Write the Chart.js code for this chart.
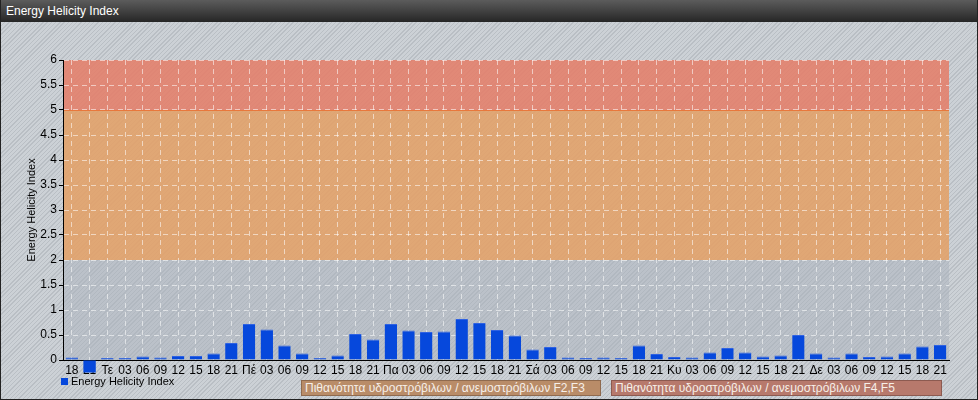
<!DOCTYPE html>
<html>
<head>
<meta charset="utf-8">
<script src="https://cdn.jsdelivr.net/npm/chart.js@4.4.1/dist/chart.umd.min.js"></script>
<style>
  html, body { margin: 0; padding: 0; }
  body { width: 978px; height: 400px; overflow: hidden; font-family: "Liberation Sans", Arial, sans-serif; }
  #wrap {
    position: relative; width: 976px; height: 399px;
    border: 1px solid #222; border-top: none;
    background-color: #ccd1d6;
    background-image: repeating-linear-gradient(135deg, rgba(150,156,163,0.35) 0px, rgba(150,156,163,0.35) 1px, transparent 1px, transparent 3px);
  }
  #titlebar {
    position: absolute; left: 0; top: 0; width: 976px; height: 22px;
    background: linear-gradient(#5c5c5c, #262626);
    color: #fff; font-size: 12px; line-height: 22px; padding-left: 5px; box-sizing: border-box;
  }
  #chart { position: absolute; left: 0; top: 0; }
  #legend { position: absolute; left: 60px; top: 375px; font-size: 11px; color: #000; }
  #legend span.box { display: inline-block; width: 7px; height: 7px; background: #0648dc; margin-right: 3px; }
  .warn {
    position: absolute; top: 380px; height: 16px; box-sizing: border-box;
    font-size: 12px; line-height: 14px; color: #f6efe8; padding-left: 3px;
  }
  #w1 { left: 300px; width: 300px; background: #b98c68; border: 1px solid #8f6a4e; }
  #w2 { left: 610px; width: 331px; background: #b7796c; border: 1px solid #8c5a50; }
</style>
</head>
<body>
<div id="wrap">
  <canvas id="chart" width="978" height="400"></canvas>
  <div id="titlebar">Energy Helicity Index</div>
  <div id="legend"><span class="box"></span>Energy Helicity Index</div>
  <div class="warn" id="w1">Πιθανότητα υδροστρόβιλων / ανεμοστρόβιλων F2,F3</div>
  <div class="warn" id="w2">Πιθανότητα υδροστρόβιλων / ανεμοστρόβιλων F4,F5</div>
</div>
<script>
// time steps (3-hourly), day names replace 00
const horas = ['18','21','Τε','03','06','09','12','15','18','21',
  'Πέ','03','06','09','12','15','18','21',
  'Πα','03','06','09','12','15','18','21',
  'Σά','03','06','09','12','15','18','21',
  'Κυ','03','06','09','12','15','18','21',
  'Δε','03','06','09','12','15','18','21'];

const ehi = [0.05, -0.25, 0.04, 0.04, 0.07, 0.05, 0.08, 0.08, 0.13, 0.34,
  0.72, 0.61, 0.29, 0.13, 0.04, 0.09, 0.52, 0.41,
  0.72, 0.59, 0.56, 0.57, 0.82, 0.74, 0.60, 0.49,
  0.21, 0.26, 0.05, 0.04, 0.05, 0.04, 0.29, 0.12,
  0.06, 0.05, 0.15, 0.24, 0.15, 0.07, 0.09, 0.50,
  0.13, 0.05, 0.13, 0.06, 0.07, 0.13, 0.27, 0.30];

// risk bands on the y axis
const faixas = [0, 2, 5, 6];
const coresFaixas = ['rgba(170,178,188,0.5)', 'rgba(226,160,104,0.88)', 'rgba(228,126,106,0.88)'];

// draws the coloured background bands
const bandas = {
  id: 'bandas',
  beforeDraw(chart) {
    const ctx = chart.ctx;
    const area = chart.chartArea;
    const y = chart.scales.y;
    ctx.save();
    for (let i = 0; i < coresFaixas.length; i++) {
      const top = y.getPixelForValue(faixas[i + 1]);
      const bot = y.getPixelForValue(faixas[i]);
      ctx.fillStyle = coresFaixas[i];
      ctx.fillRect(area.left, top, area.right - area.left, bot - top);
    }
    ctx.strokeStyle = '#e8783c';
    ctx.lineWidth = 1;
    const y5 = Math.round(y.getPixelForValue(faixas[2])) + 0.5;
    ctx.beginPath();
    ctx.moveTo(area.left, y5);
    ctx.lineTo(area.right, y5);
    ctx.stroke();
    ctx.restore();
  }
};

Chart.defaults.font.family = '"Liberation Sans", Arial, sans-serif';
Chart.defaults.color = '#000';

new Chart(document.getElementById('chart'), {
  type: 'bar',
  data: {
    labels: horas,
    datasets: [{
      label: 'Energy Helicity Index',
      data: ehi,
      backgroundColor: '#0648dc',
      borderColor: '#2f62e2',
      borderWidth: { top: 1, left: 0, right: 0, bottom: 0 },
      barPercentage: 0.7,
      categoryPercentage: 1,
      clip: false
    }]
  },
  options: {
    responsive: false,
    animation: false,
    layout: { padding: { top: 60, right: 30, bottom: 22, left: 24 } },
    plugins: { legend: { display: false }, tooltip: { enabled: false } },
    scales: {
      x: {
        afterFit: s => { s.height = 18; },
        grid: {
          offset: false,
          color: 'rgba(255,255,255,0.55)',
          drawTicks: false
        },
        border: { color: '#000', width: 1, dash: [5, 4] },
        ticks: { font: { size: 12 }, padding: 3, maxRotation: 0, autoSkip: false }
      },
      y: {
        min: 0,
        max: 6,
        afterFit: s => { s.width = 38; },
        grid: {
          color: 'rgba(255,255,255,0.55)',
          tickColor: '#000',
          tickLength: 4,
          tickBorderDash: [0, 0]
        },
        border: { color: '#000', width: 1, dash: [5, 4] },
        ticks: { stepSize: 0.5, font: { size: 12 }, padding: 2, callback: v => String(v) },
        title: { display: true, text: 'Energy Helicity Index', font: { size: 11 }, padding: 0 }
      }
    }
  },
  plugins: [bandas]
});
</script>
</body>
</html>
